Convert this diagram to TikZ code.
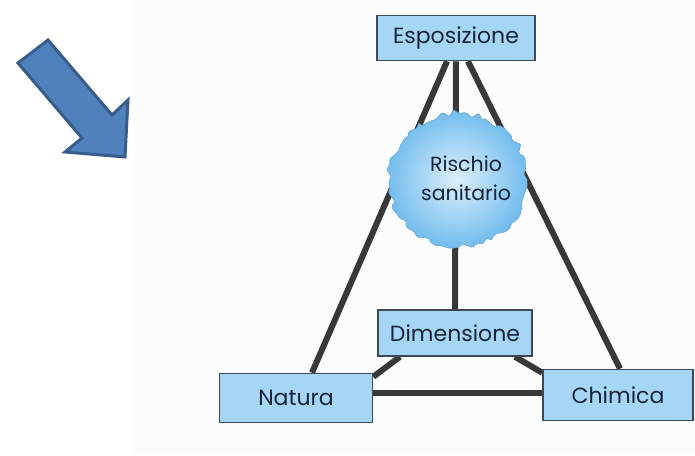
\documentclass[tikz,border=0pt]{standalone}
\usepackage{fontspec}
\setmainfont{Poppins}
\usetikzlibrary{backgrounds,decorations.pathmorphing,calc}
\definecolor{boxfill}{HTML}{A6D6F5}
\definecolor{boxline}{HTML}{3C4A58}
\definecolor{txt}{HTML}{16243A}
\definecolor{linkc}{HTML}{383838}
\definecolor{arrfill}{HTML}{4F81BD}
\definecolor{arrline}{HTML}{385D8A}
\definecolor{cloudin}{HTML}{DDF0FC}
\definecolor{cloudout}{HTML}{72BCEE}
\tikzset{
  termbox/.style={draw=boxline, line width=1.6pt, fill=boxfill, text=txt,
    font=\fontsize{22}{24}\selectfont, inner sep=0pt},
  link/.style={draw=linkc, line width=6pt},
  bigarrow/.style={fill=arrfill, draw=arrline, line width=3pt, line join=miter},
}
\begin{document}
\begin{tikzpicture}[x=1pt,y=-1pt]
\useasboundingbox (0,0) rectangle (695,455);
% big arrow
\draw[bigarrow] (18,63) -- (48,40) -- (112,115) -- (128,100) -- (125,157)
  -- (65,152) -- (82,138) -- cycle;
% boxes
\node[termbox, minimum width=158pt, minimum height=45pt] (esp) at (456,38) {Esposizione};
\node[termbox, minimum width=154pt, minimum height=46pt] (dim) at (455,333) {Dimensione};
\node[termbox, minimum width=153pt, minimum height=49pt] (nat) at (296,398) {Natura};
\node[termbox, minimum width=150pt, minimum height=51pt] (chi) at (618,395) {Chimica};
% connectors behind
\begin{pgfonlayer}{background}
\fill[black!1.2] (135,0) rectangle (695,455);
\draw[link] ([xshift=-9pt]esp.south) -- ([xshift=16pt]nat.north);
\draw[link] ([xshift=12pt]esp.south) -- ([xshift=2pt]chi.north);
\draw[link] (esp.south) -- (dim.north);
\draw[link] ([yshift=5pt]nat.east) -- ([yshift=5pt]nat.east -| chi.west);
\draw[link] ([xshift=-55pt]dim.south) -- ([yshift=-4pt]nat.north east);
\draw[link] ([xshift=60pt]dim.south) -- ([yshift=-4pt]chi.north west);
\end{pgfonlayer}
% cloud
\pgfmathsetseed{11}
\shade[inner color=cloudin, outer color=cloudout, draw=cloudout!85!black, line width=0.4pt,
  decorate, decoration={random steps, segment length=5pt, amplitude=3.5pt}, rounded corners=1.5pt]
  (458,180) ellipse [x radius=69, y radius=67];
\node[text=txt, font=\fontsize{20.5}{29}\selectfont, align=center] (risk) at (466,178) {Rischio\\sanitario};
\end{tikzpicture}
\end{document}
